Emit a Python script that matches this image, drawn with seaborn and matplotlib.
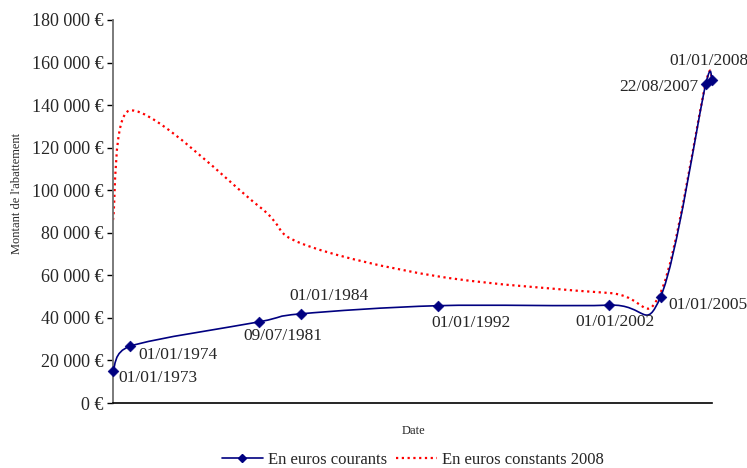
import numpy as np
import pandas as pd
import matplotlib
matplotlib.use("Agg")
import matplotlib.pyplot as plt
import matplotlib.dates as mdates
from matplotlib.path import Path
from matplotlib.patches import PathPatch
from matplotlib.lines import Line2D
from matplotlib.ticker import FuncFormatter, MultipleLocator
import seaborn as sns

# données
dates = ["01/01/1973", "01/01/1974", "09/07/1981", "01/01/1984", "01/01/1992",
         "01/01/2002", "01/01/2005", "22/08/2007", "01/01/2008"]
courants = [15245, 26679, 38112, 41923, 45735, 46000, 50000, 150000, 151950]
constants = [86000, 137500, 92500, 75000, 59500, 51700, 52000, 150500, 152000]

# décalage des étiquettes (pixels) et alignement
label_dx = [5, 8, -15, -12, -7, -34, 8, -7, -43]
label_dy = [-7, -9, -14, 18, -17, -17, -8, -3, 19]
label_ha = ["left", "left", "left", "left", "left", "left", "left", "right", "left"]

sns.set_theme(style="white")
plt.rcParams["font.family"] = ["Liberation Serif", "DejaVu Serif"]

df = pd.DataFrame({
    "date": pd.to_datetime(dates, format="%d/%m/%Y"),
    "courants": courants,
    "constants": constants,
})
df["x"] = mdates.date2num(df["date"])


def smooth_path(x, y):
    # courbe lissée type tableur (Catmull-Rom -> Bezier)
    pts = np.column_stack([x, y]).astype(float)
    n = len(pts)
    verts = [pts[0]]
    codes = [Path.MOVETO]
    for i in range(n - 1):
        p0 = pts[max(i - 1, 0)]
        p1 = pts[i]
        p2 = pts[i + 1]
        p3 = pts[min(i + 2, n - 1)]
        d1 = (p2 - p0) / 6
        d2 = (p3 - p1) / 6
        dx = p2[0] - p1[0]
        if d1[0] > dx:
            d1 = d1 * dx / d1[0]
        if d2[0] > dx:
            d2 = d2 * dx / d2[0]
        verts += [p1 + d1, p2 - d2, p2]
        codes += [Path.CURVE4] * 3
    return Path(verts, codes)


navy = "#000080"
red = "#FF0000"

fig = plt.figure(figsize=(7.47, 4.68), dpi=100)
ax = fig.add_axes([113 / 747, 1 - 403 / 468, (712 - 113) / 747, (403 - 20) / 468])

ax.add_patch(PathPatch(smooth_path(df["x"], df["constants"]), fill=False,
                       edgecolor=red, lw=1.6, linestyle=(0, (1, 1.6)), zorder=2))
ax.add_patch(PathPatch(smooth_path(df["x"], df["courants"]), fill=False,
                       edgecolor=navy, lw=1.2, zorder=3))
sns.scatterplot(data=df, x="x", y="courants", marker="D", s=30, color=navy,
                edgecolor=navy, zorder=4, clip_on=False, ax=ax, legend=False)

for i, row in df.iterrows():
    ax.annotate(dates[i], (row["x"], row["courants"]), xytext=(label_dx[i], label_dy[i]),
                textcoords="offset pixels", ha=label_ha[i], va="center", fontsize=12.5)

ax.set_xlim(df["x"].iloc[0], df["x"].iloc[-1])
ax.set_ylim(0, 180000)
ax.yaxis.set_major_locator(MultipleLocator(20000))
ax.yaxis.set_major_formatter(FuncFormatter(lambda v, p: f"{int(v):,} €".replace(",", " ")))
ax.set_xticks([])
ax.tick_params(axis="y", left=True, length=4, width=1, color="black", labelsize=13, pad=3)
ax.set_xlabel("")
ax.set_ylabel("")

for s in ["top", "right"]:
    ax.spines[s].set_visible(False)
ax.spines["left"].set_color("#707070")
ax.spines["left"].set_linewidth(1.3)
ax.spines["bottom"].set_color("black")
ax.spines["bottom"].set_linewidth(1.2)

fig.text(413 / 747, 1 - 431 / 468, "Date", ha="center", va="center", fontsize=9)
fig.text(17 / 747, 1 - 193 / 468, "Montant de l'abattement", ha="center", va="center",
         rotation=90, fontsize=9)

handles = [
    Line2D([], [], color=navy, lw=1.2, marker="D", markersize=4.5),
    Line2D([], [], color=red, lw=1.6, linestyle=(0, (1, 1.6))),
]
fig.legend(handles, ["En euros courants", "En euros constants 2008"], loc="center",
           bbox_to_anchor=(413 / 747, 1 - 460 / 468), ncol=2, frameon=False,
           fontsize=12, handlelength=2.5, columnspacing=0.5, handletextpad=0.3)

fig.savefig("out.png", dpi=100)
